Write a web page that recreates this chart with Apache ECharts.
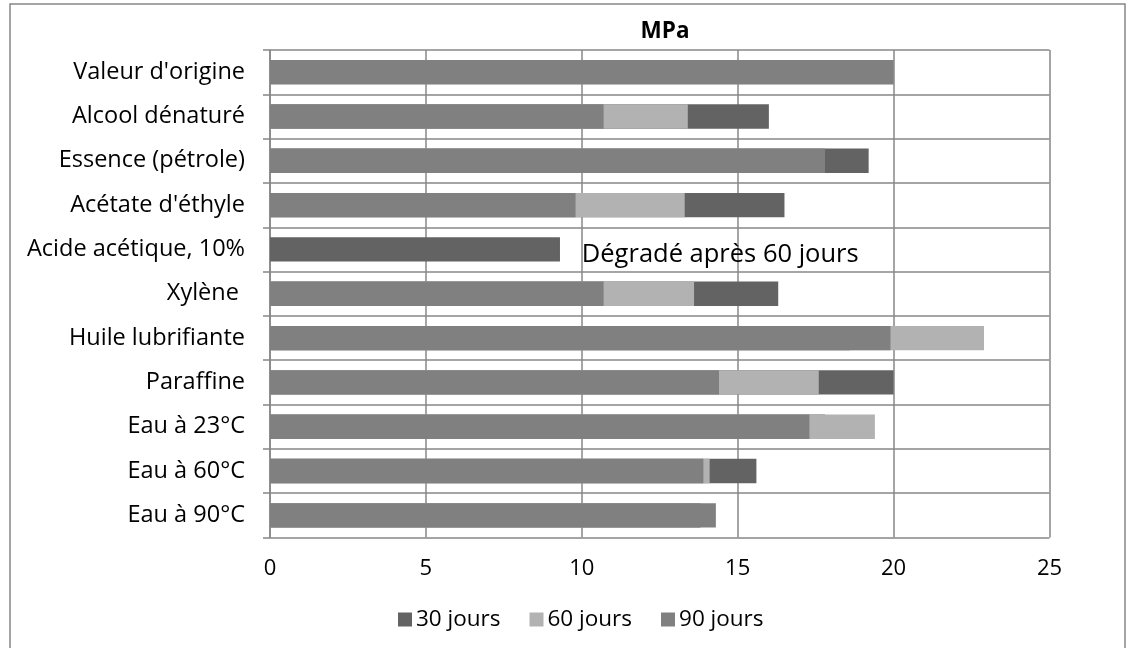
<!DOCTYPE html>
<html>
<head>
<meta charset="utf-8">
<script src="https://cdn.jsdelivr.net/npm/echarts@6/dist/echarts.min.js"></script>
<style>html,body{margin:0;padding:0;background:#fff;}#c{width:1135px;height:648px;}</style>
</head>
<body>
<div id="c"></div>
<script>
const categories = ["Valeur d'origine","Alcool dénaturé","Essence (pétrole)","Acétate d'éthyle","Acide acétique, 10%","Xylène ","Huile lubrifiante","Paraffine","Eau à 23°C","Eau à 60°C","Eau à 90°C"];
const jours30 = [20, 16.0, 19.2, 16.5, 9.3, 16.3, 18.6, 20.0, 17.8, 15.6, 13.8];
const jours60 = [20, 13.4, 17.5, 13.3, null, 13.6, 22.9, 17.6, 19.4, 14.1, 13.8];
const jours90 = [20, 10.7, 17.8, 9.8, null, 10.7, 19.9, 14.4, 17.3, 13.9, 14.3];
const xTicks = [0, 5, 10, 15, 20, 25];
const seriesNames = ["30 jours", "60 jours", "90 jours"];
const annotationText = "Dégradé après 60 jours";
const annotationAt = [10, "Acide acétique, 10%"];

const FONT = "Open Sans";
const GRID = "#878787";
const chart = echarts.init(document.getElementById('c'), null, {renderer: 'canvas'});
const barBase = {type: 'bar', barWidth: '55%', barGap: '-100%', animation: false};
chart.setOption({
  backgroundColor: '#ffffff',
  title: {text: 'MPa', left: 660, textAlign: 'center', top: 15,
    textStyle: {fontFamily: FONT, fontWeight: 'bold', fontSize: 22.5, color: '#000'}},
  grid: {left: 270, right: 85.5, top: 50, bottom: 110.5, containLabel: false},
  legend: {data: seriesNames, left: 393, top: 603, itemWidth: 14, itemHeight: 14, itemGap: 29,
    icon: 'rect', textStyle: {fontFamily: FONT, fontSize: 22.5, color: '#000', padding: [0,0,0,-1]}},
  xAxis: {type: 'value', min: xTicks[0], max: xTicks[xTicks.length-1], interval: 5,
    axisLine: {show: false}, axisTick: {show: false},
    splitLine: {show: true, lineStyle: {color: GRID, width: 1.5}},
    axisLabel: {fontFamily: FONT, fontSize: 22, color: '#000', margin: 20}},
  yAxis: {type: 'category', data: categories, inverse: true,
    axisLine: {show: true, lineStyle: {color: GRID, width: 1.5}},
    axisTick: {show: true, length: 7, lineStyle: {color: GRID, width: 1.5}},
    splitLine: {show: true, lineStyle: {color: GRID, width: 1.5}},
    axisLabel: {fontFamily: FONT, fontSize: 23.5, color: '#000', margin: 25}},
  series: [
    Object.assign({}, barBase, {name: seriesNames[0], data: jours30, itemStyle: {color: '#636363'}}),
    Object.assign({}, barBase, {name: seriesNames[1], data: jours60, itemStyle: {color: '#b2b2b2'},
      markPoint: {symbol: 'rect', symbolSize: 0, silent: true, animation: false,
        label: {show: true, position: 'right', distance: 0, offset: [0, 5], formatter: annotationText,
          fontFamily: FONT, fontSize: 25.5, color: '#000'},
        data: [{coord: annotationAt}]}}),
    Object.assign({}, barBase, {name: seriesNames[2], data: jours90, itemStyle: {color: '#808080'}})
  ],
  graphic: [{type: 'rect', shape: {x: 10, y: 4, width: 1115, height: 700},
    style: {fill: 'none', stroke: GRID, lineWidth: 1.5}, silent: true, z: -1}]
});
</script>
</body>
</html>
